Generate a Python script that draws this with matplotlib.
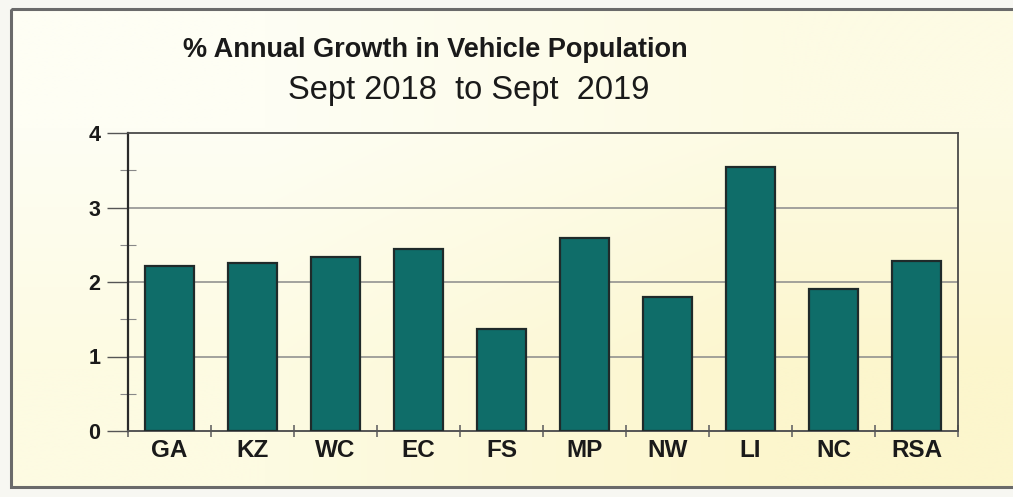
import matplotlib.pyplot as plt
import numpy as np
from matplotlib.patches import Rectangle
from matplotlib.ticker import MultipleLocator

# data
regions = ['GA', 'KZ', 'WC', 'EC', 'FS', 'MP', 'NW', 'LI', 'NC', 'RSA']
growth = [2.22, 2.25, 2.34, 2.44, 1.37, 2.59, 1.80, 3.54, 1.90, 2.28]
yticks = [0, 1, 2, 3, 4]

title = '% Annual Growth in Vehicle Population'
subtitle = 'Sept 2018  to Sept  2019'

plt.rcParams['font.family'] = ['Liberation Sans', 'DejaVu Sans']

W, H = 1013, 497
fig = plt.figure(figsize=(W / 100, H / 100), dpi=100)
fig.patch.set_facecolor('#f7f7f2')

# cream gradient background inside the frame
bg = fig.add_axes([0, 0, 1, 1], zorder=-10)
bg.axis('off')
grad = np.array([[[254, 254, 244], [253, 251, 228]],
                 [[253, 251, 226], [252, 246, 205]]]) / 255.0
bg.imshow(grad, extent=[11, 1030, 487, 9], interpolation='bilinear', aspect='auto')
bg.set_xlim(0, W)
bg.set_ylim(H, 0)
bg.add_patch(Rectangle((11, 9), 1030, 478, fill=False, edgecolor='#6a6a6a', lw=2.2))

ax = fig.add_axes([128 / W, 1 - 431 / H, (958 - 128) / W, (431 - 133) / H])
ax.set_facecolor('none')

x = np.arange(len(regions))
ax.bar(x, growth, width=0.6, color='#0f6d69', edgecolor='#1f2a2a', linewidth=1.6, zorder=3)

ax.set_xlim(-0.5, len(regions) - 0.5)
ax.set_ylim(0, 4)
ax.set_yticks(yticks)
ax.yaxis.set_minor_locator(MultipleLocator(0.5))
ax.set_yticklabels([str(v) for v in yticks], fontsize=15.5, fontweight='bold', color='#1a1a1a')
ax.tick_params(axis='y', which='major', direction='out', length=15, width=1, color='#555555', pad=5)
ax.tick_params(axis='y', which='minor', direction='inout', length=12, width=0.8, color='#888888')

# category labels between boundary ticks
ax.set_xticks(np.arange(len(regions) + 1) - 0.5)
ax.set_xticklabels([])
ax.set_xticks(x, minor=True)
ax.set_xticklabels(regions, minor=True, fontsize=17.5, fontweight='bold', color='#1a1a1a')
ax.tick_params(axis='x', which='major', direction='inout', length=9, width=1.2, color='#666666')
ax.tick_params(axis='x', which='minor', length=0, pad=6)

for v in yticks[1:-1]:
    ax.axhline(v, color='#8a8a8a', lw=1.1, zorder=1)

ax.spines['left'].set_color('#2a2a2a')
ax.spines['left'].set_linewidth(1.6)
ax.spines['bottom'].set_color('#555555')
ax.spines['bottom'].set_linewidth(1.4)
ax.spines['top'].set_color('#4a4a4a')
ax.spines['top'].set_linewidth(1.3)
ax.spines['right'].set_color('#4a4a4a')
ax.spines['right'].set_linewidth(1.3)

fig.text(435 / W, 1 - 57 / H, title, fontsize=19.5, fontweight='bold', color='#1a1a1a',
         ha='center', va='baseline')
fig.text(469 / W, 1 - 99 / H, subtitle, fontsize=23.5, color='#1a1a1a',
         ha='center', va='baseline')

fig.savefig('out.png', dpi=100, facecolor=fig.get_facecolor())
